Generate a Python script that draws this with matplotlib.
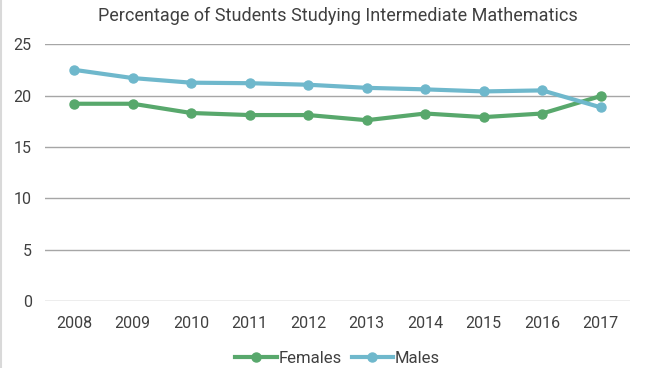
import matplotlib
matplotlib.use('Agg')
import matplotlib.pyplot as plt
from matplotlib.lines import Line2D

years = ['2008', '2009', '2010', '2011', '2012', '2013', '2014', '2015', '2016', '2017']
females = [19.2, 19.2, 18.3, 18.1, 18.1, 17.6, 18.25, 17.9, 18.25, 19.95]
males = [22.5, 21.7, 21.25, 21.2, 21.05, 20.75, 20.6, 20.4, 20.5, 18.85]
y_ticks = [0, 5, 10, 15, 20, 25]

plt.rcParams['font.family'] = ['Roboto', 'DejaVu Sans']
txt = '#404040'

fig = plt.figure(figsize=(6.5, 3.68), dpi=100)
ax = fig.add_axes([0.0692, 0.182, 0.9, 0.698])

x = list(range(len(years)))
ax.plot(x, females, '-o', color='#58a86c', lw=3, ms=6.5, label='Females', zorder=3)
ax.plot(x, males, '-o', color='#6fb8cc', lw=3, ms=6.5, label='Males', zorder=3)

ax.set_ylim(0, 25)
ax.set_xlim(-0.5, 9.5)
ax.set_yticks(y_ticks)
ax.set_xticks(x)
ax.set_xticklabels(years)
ax.grid(axis='y', color='#a6a6a6', lw=1)
ax.set_axisbelow(True)
for s in ax.spines.values():
    s.set_visible(False)
ax.tick_params(length=0, labelsize=11.5, colors=txt)
ax.tick_params(axis='x', pad=11)
ax.tick_params(axis='y', pad=9.5)

ax.set_title('Percentage of Students Studying Intermediate Mathematics',
             fontsize=13, color=txt, pad=17)

leg = ax.legend(loc='center', bbox_to_anchor=(0.5, -0.225), ncol=2, frameon=False,
                fontsize=12, handlelength=2.5, handletextpad=0.1, columnspacing=0.6)
for t in leg.get_texts():
    t.set_color(txt)

# thin grey edge on the left like the source image
fig.add_artist(Line2D([0.002, 0.002], [0, 1], transform=fig.transFigure,
                      color='#d9d9d9', lw=1.5))

fig.savefig('out.png', dpi=100)
